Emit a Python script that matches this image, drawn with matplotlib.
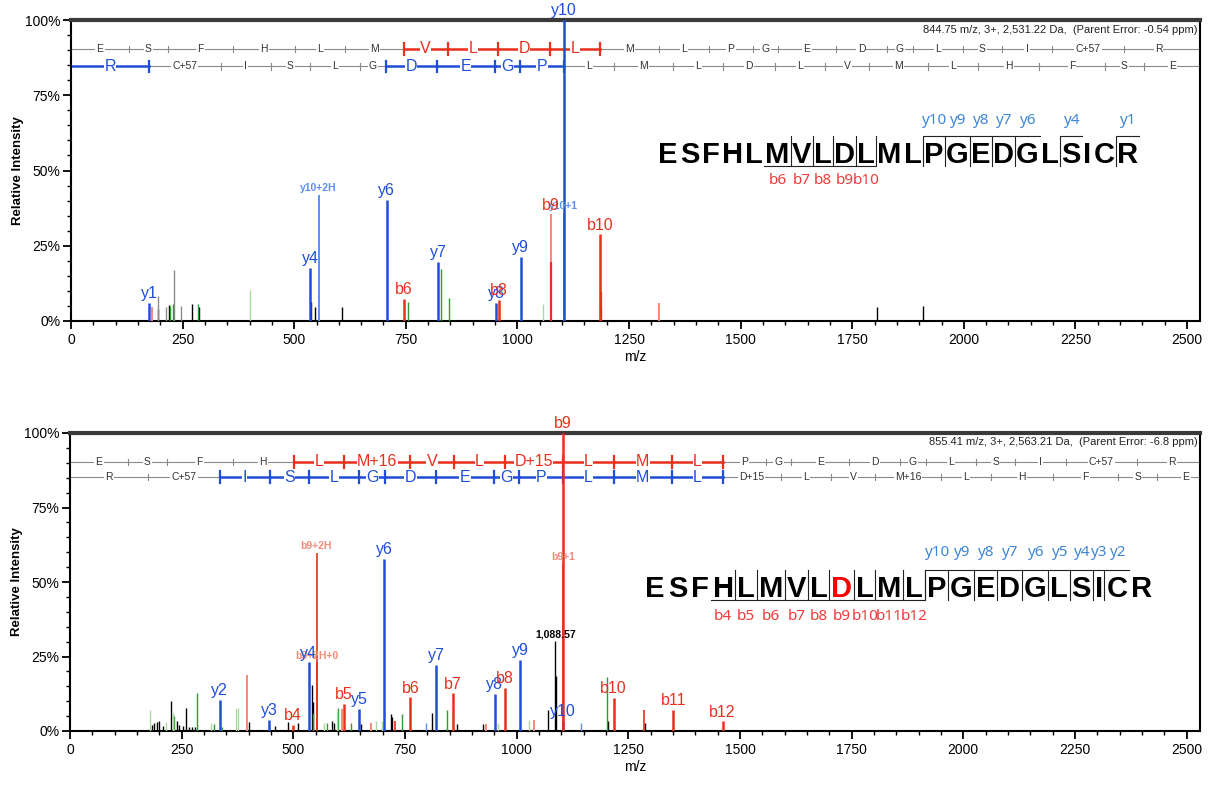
import matplotlib
matplotlib.use("Agg")
import matplotlib.pyplot as plt
import matplotlib.transforms as mtransforms
from matplotlib.lines import Line2D
from matplotlib.textpath import TextToPath
from matplotlib.font_manager import FontProperties
import numpy as np

plt.rcParams["font.family"] = ["Liberation Sans", "DejaVu Sans"]

W, H = 1216, 787

BLUE = "#1f4fd8"
LBLUE = "#5b8ff5"
RED = "#e8301c"
LRED = "#f58a78"
GREEN = "#2f9a2f"
LGREEN = "#a9d99f"
GRAY = "#8a8a8a"
SEQ_BLUE = "#3f86d6"
SEQ_RED = "#f03c3c"

# ---------------- spectrum 1 (unmodified) ----------------
s1_header = "844.75 m/z, 3+, 2,531.22 Da,  (Parent Error: -0.54 ppm)"
s1_seq = "ESFHLMVLDLMLPGEDGLSICR"
s1_y_obs = [10, 9, 8, 7, 6, 4, 1]
s1_b_obs = [6, 7, 8, 9, 10]

s1_b_res = ["E", "S", "F", "H", "L", "M", "V", "L", "D", "L", "M", "L", "P", "G",
            "E", "D", "G", "L", "S", "I", "C+57", "R"]
s1_b_cuts = [130, 217, 364, 501, 614, 745, 844, 957, 1073, 1186, 1317, 1430, 1527,
             1584, 1713, 1828, 1885, 1998, 2085, 2198, 2358, 2514]
s1_b_hit_res = [6, 7, 8, 9]
s1_b_hit_cuts = [5, 6, 7, 8, 9]

s1_y_res = ["R", "C+57", "I", "S", "L", "G", "D", "E", "G", "P", "L", "M", "L", "D",
            "L", "V", "M", "L", "H", "F", "S", "E"]
s1_y_cuts = [175, 335, 448, 535, 648, 705, 820, 949, 1006, 1104, 1217, 1348, 1461,
             1576, 1689, 1788, 1919, 2032, 2169, 2316, 2403, 2532]
s1_y_hit_res = [0, 6, 7, 8, 9]
s1_y_hit_cuts = [0, 5, 6, 7, 8, 9]

s1_black_mz = [194, 220, 272, 287, 538, 546, 607, 1805, 1909]
s1_black_int = [3.9, 5.2, 5.5, 4.8, 6.3, 4.8, 4.8, 4.8, 5.1]
s1_gray_mz = [196, 212, 231, 246]
s1_gray_int = [8.3, 4.5, 17.0, 5.1]
s1_green_mz = [222, 229, 285, 755, 828, 847]
s1_green_int = [5.0, 5.7, 5.7, 6.3, 17.2, 7.6]
s1_lgreen_mz = [401, 1058]
s1_lgreen_int = [10.3, 5.7]
s1_lred_mz = [182, 1318, 1075]
s1_lred_int = [4.8, 6.1, 35.4]
s1_red_mz = [1075, 1187, 1188]
s1_red_int = [19.5, 9.7, 4.8]

s1_y_lab = ["y1", "y4", "y6", "y7", "y8", "y9", "y10"]
s1_y_mz = [175, 536, 707, 822, 952, 1007, 1104]
s1_y_int = [6.1, 17.6, 40.2, 19.7, 6.1, 21.4, 100]
s1_b_lab = ["b6", "b8", "b9", "b10"]
s1_b_mz = [746, 958, 1075, 1186]
s1_b_int = [7.4, 7.0, 35.4, 28.8]
s1_small_lab = ["y10+1", "y10+2H"]
s1_small_mz = [1104, 555]
s1_small_int = [36.0, 41.9]

# ---------------- spectrum 2 (modified) ----------------
s2_header = "855.41 m/z, 3+, 2,563.21 Da,  (Parent Error: -6.8 ppm)"
s2_seq = "ESFHLMVLDLMLPGEDGLSICR"
s2_y_obs = [10, 9, 8, 7, 6, 5, 4, 3, 2]
s2_b_obs = [4, 5, 6, 7, 8, 9, 10, 11, 12]

s2_b_res = ["E", "S", "F", "H", "L", "M+16", "V", "L", "D+15", "L", "M", "L", "P", "G",
            "E", "D", "G", "L", "S", "I", "C+57", "R"]
s2_b_cuts = [130, 217, 364, 501, 614, 761, 860, 973, 1104, 1217, 1348, 1461, 1558,
             1615, 1744, 1859, 1916, 2029, 2116, 2229, 2389, 2545]
s2_b_hit_res = [4, 5, 6, 7, 8, 9, 10, 11]
s2_b_hit_cuts = [3, 4, 5, 6, 7, 8, 9, 10, 11]

s2_y_res = ["R", "C+57", "I", "S", "L", "G", "D", "E", "G", "P", "L", "M", "L", "D+15",
            "L", "V", "M+16", "L", "H", "F", "S", "E"]
s2_y_cuts = [175, 335, 448, 535, 648, 705, 820, 949, 1006, 1104, 1217, 1348, 1461,
             1591, 1704, 1803, 1950, 2063, 2200, 2347, 2434, 2563]
s2_y_hit_res = [2, 3, 4, 5, 6, 7, 8, 9, 10, 11, 12]
s2_y_hit_cuts = [1, 2, 3, 4, 5, 6, 7, 8, 9, 10, 11, 12]

s2_black_mz = [183, 188, 195, 200, 209, 226, 240, 245, 252, 259, 266, 273, 280, 400,
               460, 489, 510, 541, 545, 587, 590, 652, 718, 722, 810, 867, 924, 1071,
               1087, 1089, 1205, 1287]
s2_black_int = [2.0, 2.7, 3.0, 3.4, 1.7, 10.1, 3.4, 2.0, 1.7, 7.7, 1.5, 1.5, 1.5, 2.9,
                1.8, 2.9, 2.8, 15.5, 9.6, 3.2, 2.8, 2.3, 5.6, 4.7, 6.0, 2.5, 2.3, 7.1,
                30.2, 18.5, 3.4, 2.6]
s2_green_mz = [233, 285, 322, 340, 543, 576, 601, 630, 744, 843, 1203]
s2_green_int = [5.0, 12.7, 2.5, 1.4, 6.2, 2.6, 7.7, 2.6, 5.6, 7.0, 18.0]
s2_lgreen_mz = [178, 214, 230, 315, 372, 376, 568, 598, 686, 698, 959, 1027]
s2_lgreen_int = [7.1, 3.0, 6.0, 2.6, 7.3, 7.7, 2.6, 6.8, 3.3, 3.2, 2.8, 3.6]
s2_lblue_mz = [797, 1145]
s2_lblue_int = [2.6, 2.8]
s2_red_mz = [728, 1286, 552, 1104]
s2_red_int = [3.3, 7.1, 23.0, 56.0]
s2_lred_mz = [397, 608, 675, 931, 1039]
s2_lred_int = [18.9, 7.5, 2.6, 2.5, 3.6]

s2_y_lab = ["y2", "y3", "y4", "y5", "y6", "y7", "y8", "y9", "y10"]
s2_y_mz = [335, 446, 534, 647, 704, 820, 951, 1008, 1103]
s2_y_int = [10.5, 3.6, 23.0, 7.3, 57.8, 22.1, 12.4, 23.9, 3.5]
s2_b_lab = ["b4", "b5", "b6", "b7", "b8", "b9", "b10", "b11", "b12"]
s2_b_mz = [500, 614, 762, 858, 974, 1104, 1217, 1351, 1461]
s2_b_int = [2.1, 9.2, 11.3, 12.6, 14.4, 100, 11.0, 7.2, 3.2]
s2_small_lab = ["b9+2H", "b9+2H+0", "b9+1"]
s2_small_mz = [552, 552, 1104]
s2_small_int = [59.7, 23.0, 56.0]
s2_mass_lab = "1,088.57"
s2_mass_mz = 1087
s2_mass_int = 30.2

fig = plt.figure(figsize=(W / 100, H / 100), dpi=100)
PX = mtransforms.Affine2D().scale(1 / W, -1 / H).translate(0, 1) + fig.transFigure

ax1 = fig.add_axes([71 / W, 1 - 321 / H, (1200 - 71) / W, (321 - 20) / H])
ax2 = fig.add_axes([70 / W, 1 - 731 / H, (1200 - 70) / W, (731 - 433) / H])


def style_axes(ax, xmax, header):
    ax.set_xlim(0, xmax)
    ax.set_ylim(0, 100)
    ax.set_xticks(np.arange(0, 2501, 250))
    ax.set_xticks(np.arange(0, xmax, 50), minor=True)
    ax.set_yticks([0, 25, 50, 75, 100])
    ax.set_yticklabels(["0%", "25%", "50%", "75%", "100%"])
    ax.set_yticks(np.arange(0, 100, 5), minor=True)
    ax.tick_params(direction="out", length=6, width=1.3, labelsize=10, pad=3)
    ax.tick_params(axis="y", pad=1.5)
    ax.tick_params(which="minor", direction="out", length=3, width=1)
    for s in ax.spines.values():
        s.set_linewidth(1.5)
    ax.spines["top"].set_linewidth(3)
    ax.spines["top"].set_color("#3a3a3a")
    ax.set_xlabel("m/z", fontsize=10, labelpad=2)
    ax.set_ylabel("Relative Intensity", fontsize=9.5, fontweight="bold", labelpad=1)
    ax.text(0.998, 0.985, header, transform=ax.transAxes, ha="right", va="top",
            fontsize=8, family=["Liberation Sans Narrow", "Liberation Sans"], color="#222")


def draw_ladder(ax, y, residues, cuts, hit_res, hit_cuts, color, xmax):
    bounds = [0] + cuts
    ax.plot([0, xmax], [y, y], color=GRAY, lw=0.8, zorder=1)
    for i, c in enumerate(cuts[:-1]):
        hit = i in hit_cuts
        h = 1.9 if hit else 1.1
        ax.plot([c, c], [y - h, y + h], color=color if hit else GRAY,
                lw=1.6 if hit else 0.8, zorder=2)
    for i, r in enumerate(residues):
        mid = (bounds[i] + bounds[i + 1]) / 2
        if i in hit_res:
            ax.plot([bounds[i], bounds[i + 1]], [y, y], color=color, lw=1.8, zorder=2)
            ax.text(mid, y, r, color=color, fontsize=11.5, ha="center", va="center",
                    zorder=2.5, clip_on=True,
                    bbox=dict(fc="white", ec="none", pad=0.2))
        else:
            ax.text(mid, y, r, color="#333", fontsize=7.5, ha="center", va="center",
                    zorder=2.5, clip_on=True,
                    family=["Liberation Sans Narrow", "Liberation Sans"],
                    bbox=dict(fc="white", ec="none", pad=0.8))


def peaks(ax, mz, inten, color, lw=1.0):
    ax.vlines(mz, 0, inten, colors=color, lw=lw, zorder=3)


def labels(ax, labs, mz, inten, color, fs=11.5, weight="normal", dy=0.6):
    for l, m, v in zip(labs, mz, inten):
        ax.text(m, v + dy, l, color=color, fontsize=fs, fontweight=weight,
                ha="center", va="bottom", zorder=5, clip_on=False)


def draw_sequence(seq, x0, x1, base, cap, y_obs, b_obs, ylab_y, blab_y, red_idx=()):
    fp = FontProperties(family="Liberation Sans", weight="bold", size=21)
    ttp = TextToPath()
    w = np.array([ttp.get_text_width_height_descent(c, fp, ismath=False)[0]
                  for c in seq]) * 100 / 72
    gap = (x1 - x0 - w.sum()) / (len(seq) - 1)
    left = x0 + np.concatenate([[0], np.cumsum(w[:-1] + gap)])
    cen = left + w / 2
    for i, c in enumerate(seq):
        fig.text(cen[i], base, c, transform=PX, fontproperties=fp, ha="center",
                 va="baseline", color="red" if i in red_idx else "black")
    top, bot = base - cap - 3, base + 3
    for n in y_obs:
        k = len(seq) - n
        bx = left[k] - gap / 2
        fig.add_artist(Line2D([bx, bx, left[k] + w[k] + gap / 2], [bot, top, top],
                              transform=PX, color="#222", lw=0.8))
        fig.text(cen[k], ylab_y, f"y{n}", transform=PX, ha="center", va="center",
                 fontsize=11, color=SEQ_BLUE, family="Noto Sans")
    for n in b_obs:
        k = n - 1
        bx = left[k] + w[k] + gap / 2
        fig.add_artist(Line2D([bx, bx, left[k] - gap / 2], [top, bot, bot],
                              transform=PX, color="#222", lw=0.8))
        fig.text(cen[k], blab_y, f"b{n}", transform=PX, ha="center", va="center",
                 fontsize=11, color=SEQ_RED, family="Noto Sans")


# ---- top panel ----
X1 = 2529
style_axes(ax1, X1, s1_header)
draw_ladder(ax1, 90.4, s1_b_res, s1_b_cuts, s1_b_hit_res, s1_b_hit_cuts, RED, X1)
draw_ladder(ax1, 84.6, s1_y_res, s1_y_cuts, s1_y_hit_res, s1_y_hit_cuts, BLUE, X1)
peaks(ax1, s1_black_mz, s1_black_int, "black")
peaks(ax1, s1_gray_mz, s1_gray_int, "#8c8c8c")
peaks(ax1, s1_green_mz, s1_green_int, GREEN)
peaks(ax1, s1_lgreen_mz, s1_lgreen_int, LGREEN)
peaks(ax1, s1_lred_mz, s1_lred_int, LRED, 1.4)
peaks(ax1, s1_small_mz, s1_small_int, LBLUE, 1.4)
labels(ax1, s1_small_lab, s1_small_mz, s1_small_int, LBLUE, fs=7.5, weight="bold")
peaks(ax1, s1_red_mz, s1_red_int, RED, 1.6)
peaks(ax1, s1_y_mz, s1_y_int, BLUE, 1.8)
peaks(ax1, s1_b_mz[:2] + s1_b_mz[3:], s1_b_int[:2] + s1_b_int[3:], RED, 1.8)
labels(ax1, s1_y_lab, s1_y_mz, s1_y_int, BLUE)
labels(ax1, s1_b_lab, s1_b_mz, s1_b_int, RED)

# ---- bottom panel ----
X2 = 2530
style_axes(ax2, X2, s2_header)
draw_ladder(ax2, 90.3, s2_b_res, s2_b_cuts, s2_b_hit_res, s2_b_hit_cuts, RED, X2)
draw_ladder(ax2, 85.2, s2_y_res, s2_y_cuts, s2_y_hit_res, s2_y_hit_cuts, BLUE, X2)
peaks(ax2, s2_black_mz, s2_black_int, "black")
peaks(ax2, s2_green_mz, s2_green_int, GREEN)
peaks(ax2, s2_lgreen_mz, s2_lgreen_int, LGREEN)
peaks(ax2, s2_lblue_mz, s2_lblue_int, LBLUE)
peaks(ax2, s2_lred_mz, s2_lred_int, LRED, 1.4)
peaks(ax2, s2_red_mz, s2_red_int, RED, 1.2)
peaks(ax2, s2_small_mz[:1], s2_small_int[:1], RED, 1.2)
labels(ax2, s2_small_lab, s2_small_mz, s2_small_int, LRED, fs=7.5, weight="bold")
peaks(ax2, s2_y_mz, s2_y_int, BLUE, 1.8)
peaks(ax2, s2_b_mz, s2_b_int, RED, 1.8)
labels(ax2, s2_y_lab, s2_y_mz, s2_y_int, BLUE)
labels(ax2, s2_b_lab, s2_b_mz, s2_b_int, RED)
labels(ax2, [s2_mass_lab], [s2_mass_mz], [s2_mass_int], "black", fs=7.5, weight="bold")

# ---- sequence coverage maps ----
draw_sequence(s1_seq, 658, 1138, 163, 24, s1_y_obs, s1_b_obs, 120, 181)
draw_sequence(s2_seq, 645, 1152, 597, 24, s2_y_obs, s2_b_obs, 552, 616, red_idx=(8,))

fig.savefig("out.png", dpi=100)
